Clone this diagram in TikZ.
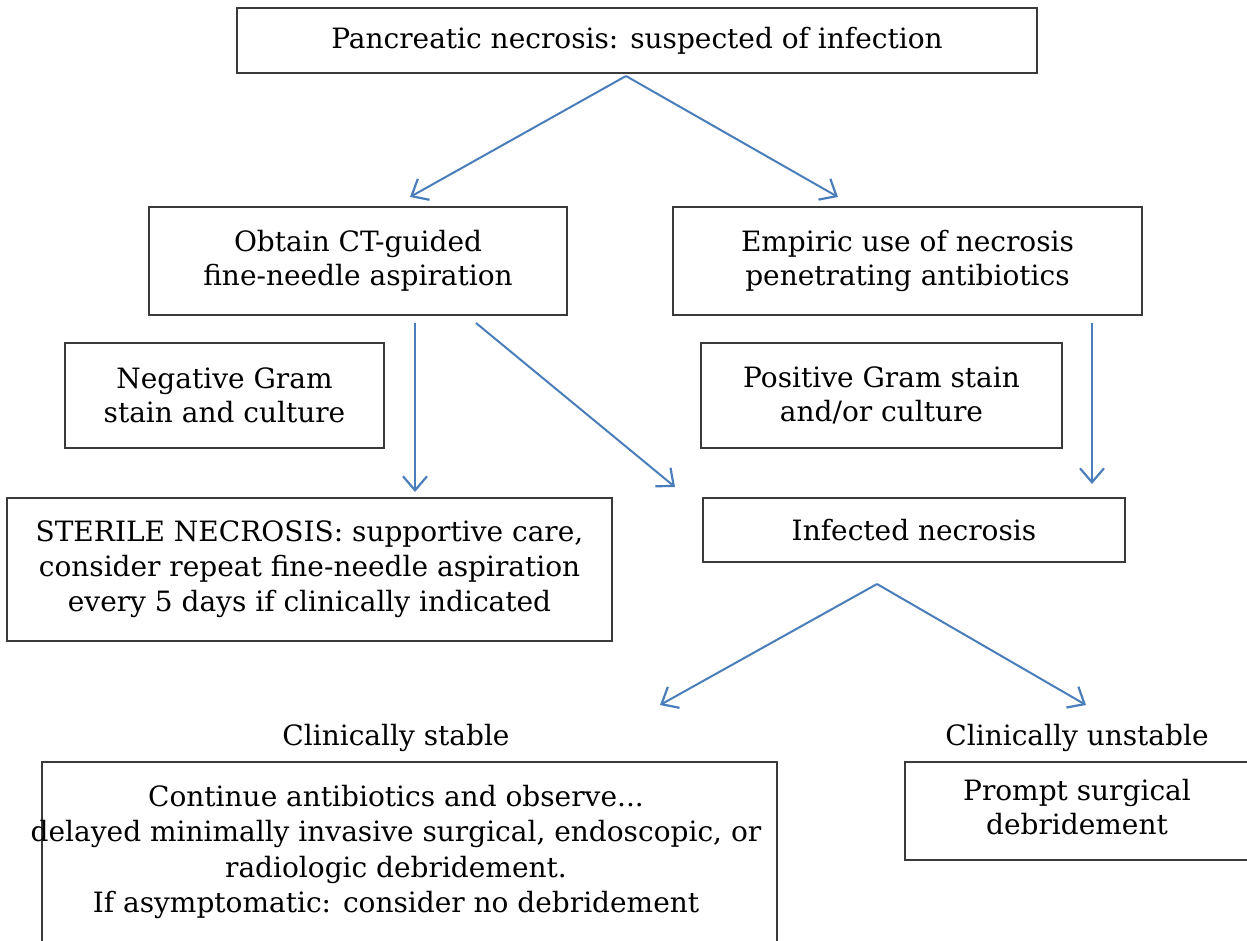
\documentclass[tikz,border=0pt]{standalone}
\usepackage{fontspec}
\setmainfont{DejaVu Serif}
\usetikzlibrary{arrows.meta}
\definecolor{arrowblue}{HTML}{4A7EBB}
\definecolor{boxline}{HTML}{3A3A3A}
\tikzset{
  box/.style={draw=boxline, line width=0.7pt, align=center, inner sep=0pt, font=\fontsize{14}{17}\selectfont},
  lbl/.style={align=center, inner sep=0pt, font=\fontsize{14}{17}\selectfont},
  tbox/.style={box, font=\fontsize{14}{17.6}\selectfont},
  conn/.style={draw=arrowblue, line width=1pt, -{Straight Barb[length=7pt, width=12pt, line width=1.1pt]}},
}
\begin{document}
\begin{tikzpicture}[x=0.5pt, y=-0.5pt]
\useasboundingbox (0,0) rectangle (1247,941);
% boxes
\node[box, minimum width=400pt, minimum height=32.5pt] (top) at (637,40.5) {Pancreatic necrosis: suspected of infection};
\node[box, minimum width=209pt, minimum height=54pt] (obtain) at (358,261) {Obtain CT-guided\\fine-needle aspiration};
\node[box, minimum width=234.5pt, minimum height=54pt] (empiric) at (907.5,261) {Empiric use of necrosis\\penetrating antibiotics};
\node[box, minimum width=159.5pt, minimum height=52.5pt] (neg) at (224.5,395.5) {Negative Gram\\stain and culture};
\node[box, minimum width=180.5pt, minimum height=52.5pt] (pos) at (881.5,395.5) {Positive Gram stain\\and/or culture};
\node[tbox, minimum width=302.5pt, minimum height=71.5pt] (sterile) at (309.5,569.5) {STERILE NECROSIS: supportive care,\\consider repeat fine-needle aspiration\\every 5 days if clinically indicated};
\node[box, minimum width=211pt, minimum height=32pt] (infected) at (914,530) {Infected necrosis};
\node[lbl] (stablelbl) at (396,738) {Clinically stable};
\node[lbl] (unstablelbl) at (1077,738) {Clinically unstable};
\node[box, minimum width=367.5pt, minimum height=95pt] (stable) at (409.5,857) {};
\node[tbox, draw=none] (stabletxt) at (396,852) {Continue antibiotics and observe...\\delayed minimally invasive surgical, endoscopic, or\\radiologic debridement.\\If asymptomatic: consider no debridement};
\node[box, minimum width=175pt, minimum height=49pt] (prompt) at (1080,811) {};
\node[lbl] (prompttxt) at (1077,807) {Prompt surgical\\debridement};
% connector end points
\coordinate (s1) at (626,76);
\coordinate (e1) at (410,197);
\coordinate (e2) at (838,197);
\coordinate (s3) at (415,323);
\coordinate (e3) at (415,492);
\coordinate (s4) at (476,323);
\coordinate (e4) at (675,487);
\coordinate (s5) at (1092,323);
\coordinate (e5) at (1092,484);
\coordinate (s6) at (877,584);
\coordinate (e6) at (660,705);
\coordinate (e7) at (1086,705);
% connectors
\draw[conn] (s1) -- (e1);
\draw[conn] (s1) -- (e2);
\draw[conn] (s3) -- (e3);
\draw[conn] (s4) -- (e4);
\draw[conn] (s5) -- (e5);
\draw[conn] (s6) -- (e6);
\draw[conn] (s6) -- (e7);
\end{tikzpicture}
\end{document}
